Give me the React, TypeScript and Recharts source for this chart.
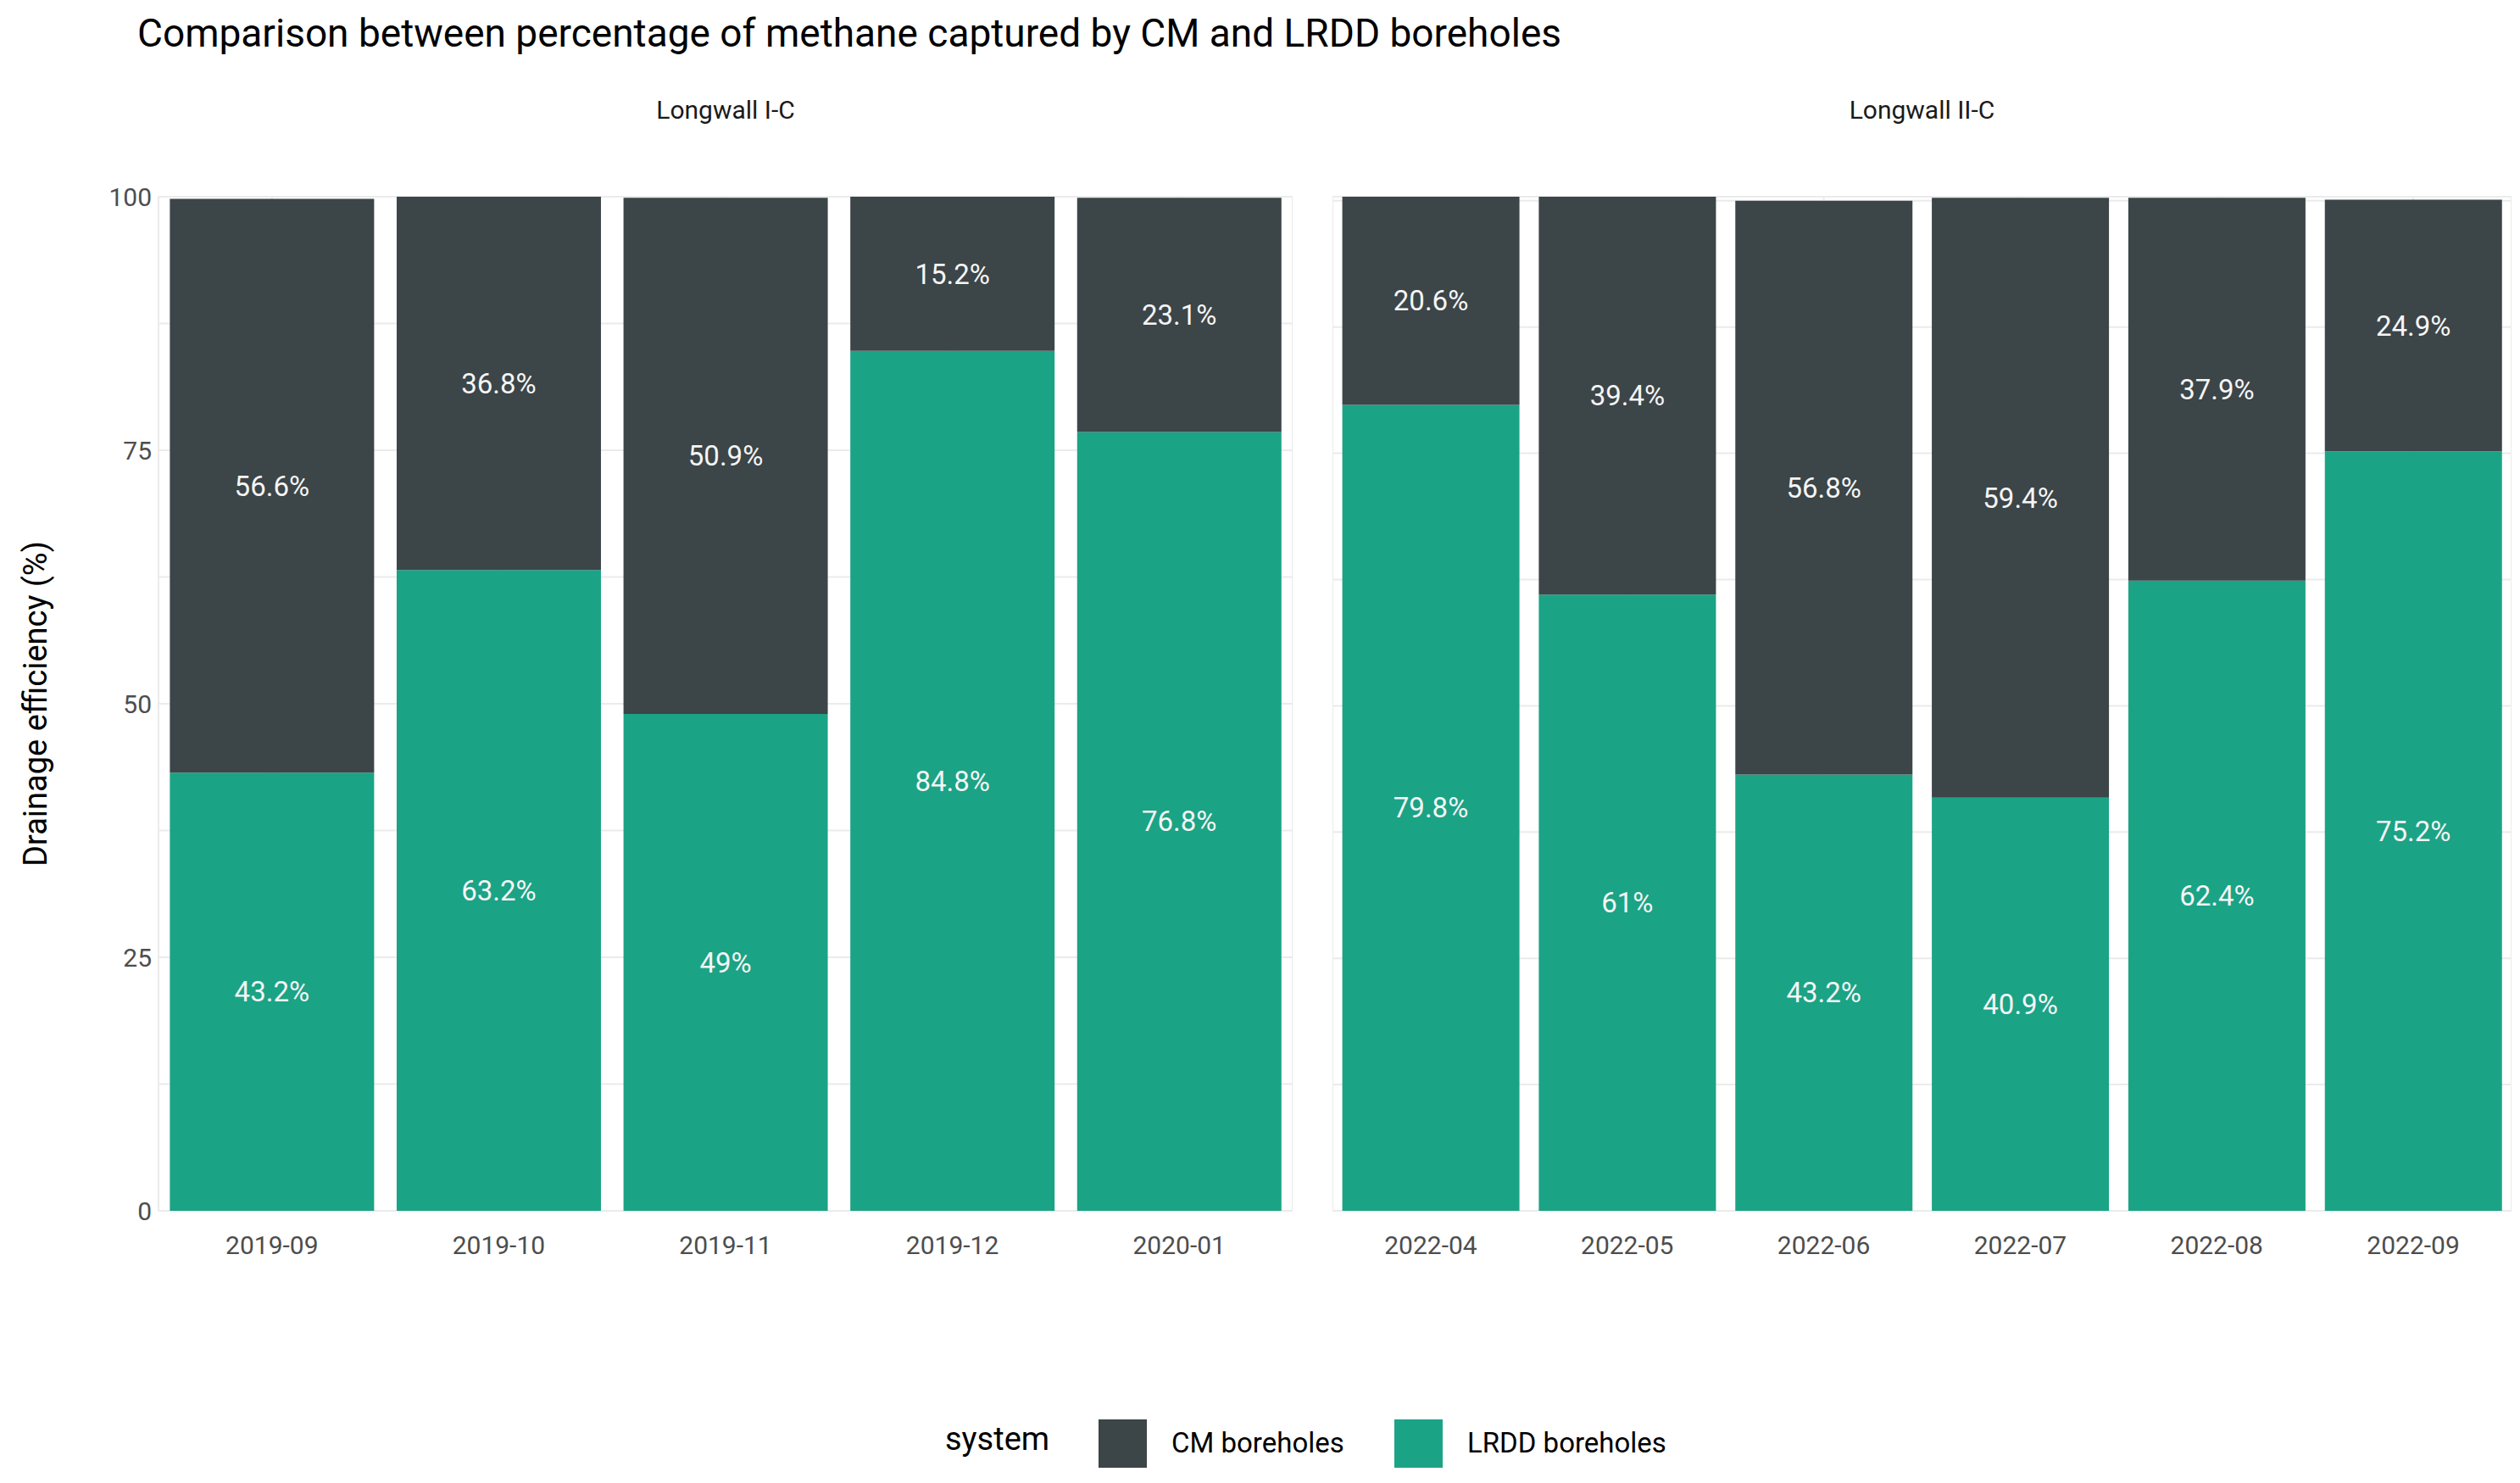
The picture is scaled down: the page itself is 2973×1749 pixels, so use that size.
import { BarChart, Bar, XAxis, YAxis, CartesianGrid, LabelList } from "recharts";

const months1 = ["2019-09", "2019-10", "2019-11", "2019-12", "2020-01"];
const lrdd1 = [43.2, 63.2, 49, 84.8, 76.8];
const cm1 = [56.6, 36.8, 50.9, 15.2, 23.1];
const months2 = ["2022-04", "2022-05", "2022-06", "2022-07", "2022-08", "2022-09"];
const lrdd2 = [79.8, 61, 43.2, 40.9, 62.4, 75.2];
const cm2 = [20.6, 39.4, 56.8, 59.4, 37.9, 24.9];
const yTicks = [0, 12.5, 25, 37.5, 50, 62.5, 75, 87.5, 100];

const CM_COLOR = "#3c4548";
const LRDD_COLOR = "#1ba385";
const FONT = "Roboto, 'Noto Sans', sans-serif";

const build = (m: string[], l: number[], c: number[]) =>
  m.map((month, i) => ({ month, lrdd: l[i], cm: c[i] }));

function Panel({ data, showY, width }: { data: any[]; showY: boolean; width: number }) {
  return (
    <BarChart
      width={width}
      height={1560}
      data={data}
      margin={{ top: 232, right: 0, bottom: 32, left: 0 }}
      barCategoryGap="5%"
    >
      <CartesianGrid stroke="#ebebeb" strokeWidth={2} />
      <XAxis
        dataKey="month"
        height={100}
        axisLine={false}
        tickLine={false}
        tick={{ fill: "#4d4d4d", fontSize: 30, fontFamily: FONT }}
        tickMargin={24}
      />
      <YAxis
        hide={!showY}
        width={187}
        domain={[0, 100]}
        ticks={yTicks}
        interval={0}
        axisLine={false}
        tickLine={false}
        tick={{ fill: "#4d4d4d", fontSize: 30, fontFamily: FONT }}
        tickFormatter={(v: number) => (v % 25 === 0 ? String(v) : "")}
      />
      <Bar dataKey="lrdd" stackId="a" fill={LRDD_COLOR} isAnimationActive={false}>
        <LabelList
          dataKey="lrdd"
          position="center"
          formatter={(v: any) => `${v}%`}
          style={{ fill: "#f5f5f5", fontSize: 33, fontFamily: FONT }}
        />
      </Bar>
      <Bar dataKey="cm" stackId="a" fill={CM_COLOR} isAnimationActive={false}>
        <LabelList
          dataKey="cm"
          position="center"
          formatter={(v: any) => `${v}%`}
          style={{ fill: "#f5f5f5", fontSize: 33, fontFamily: FONT }}
        />
      </Bar>
    </BarChart>
  );
}

export default function App() {
  return (
    <div style={{ position: "absolute", left: 0, top: 0, width: 2973, height: 1749, background: "#fff", fontFamily: FONT }}>
      <div style={{ position: "absolute", left: 162, top: 12, fontSize: 46, color: "#000" }}>
        Comparison between percentage of methane captured by CM and LRDD boreholes
      </div>
      <div style={{ position: "absolute", left: 187, width: 1338, top: 112, textAlign: "center", fontSize: 30, color: "#1a1a1a" }}>
        Longwall I-C
      </div>
      <div style={{ position: "absolute", left: 1572, width: 1391, top: 112, textAlign: "center", fontSize: 30, color: "#1a1a1a" }}>
        Longwall II-C
      </div>
      <div
        style={{
          position: "absolute", left: 42, top: 830, fontSize: 38, color: "#000",
          transform: "translate(-50%, -50%) rotate(-90deg)", whiteSpace: "nowrap",
        }}
      >
        Drainage efficiency (%)
      </div>
      <div style={{ position: "absolute", left: 0, top: 0 }}>
        <Panel data={build(months1, lrdd1, cm1)} showY={true} width={1525} />
      </div>
      <div style={{ position: "absolute", left: 1572, top: 0 }}>
        <Panel data={build(months2, lrdd2, cm2)} showY={false} width={1391} />
      </div>
      <div style={{ position: "absolute", left: 1115, top: 1675, fontSize: 38, color: "#000" }}>system</div>
      <div style={{ position: "absolute", left: 1296, top: 1674, width: 57, height: 57, background: CM_COLOR }} />
      <div style={{ position: "absolute", left: 1382, top: 1682, fontSize: 33, color: "#000" }}>CM boreholes</div>
      <div style={{ position: "absolute", left: 1645, top: 1674, width: 57, height: 57, background: LRDD_COLOR }} />
      <div style={{ position: "absolute", left: 1731, top: 1682, fontSize: 33, color: "#000" }}>LRDD boreholes</div>
    </div>
  );
}
